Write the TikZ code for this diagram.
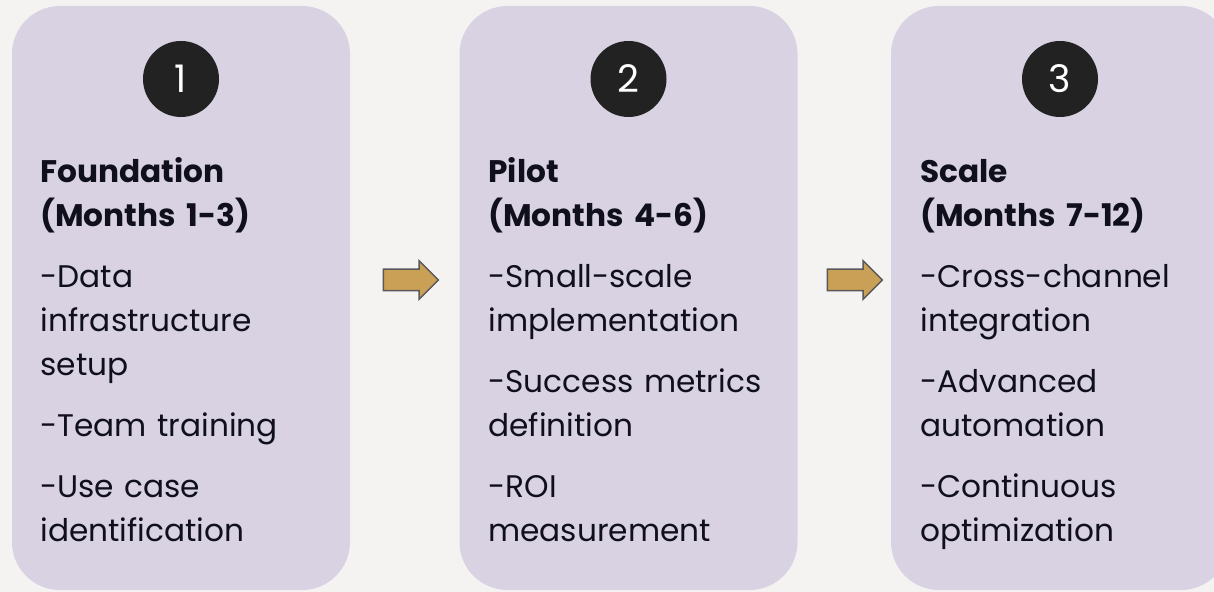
\documentclass[tikz,border=0pt]{standalone}
\usepackage{fontspec}
\setmainfont{Poppins}
\usetikzlibrary{positioning, shapes.arrows}
\definecolor{pagebg}{RGB}{244,243,242}
\definecolor{lilac}{RGB}{217,210,227}
\definecolor{ochre}{RGB}{202,160,86}
\definecolor{ink}{RGB}{16,16,28}
\definecolor{badgegray}{RGB}{34,34,34}

\begin{document}
\begin{tikzpicture}[x=0.5pt, y=-0.5pt,
  panel/.style={fill=lilac, rounded corners=24pt, minimum width=169pt, minimum height=292pt, inner sep=0pt},
  badge/.style={circle, fill=badgegray, text=white, minimum size=38pt, inner sep=0pt, font=\fontsize{19}{19}\selectfont},
  phase/.style={anchor=base west, text=ink, align=left, text width=145pt, inner sep=0pt, font=\fontsize{15.6}{22}\selectfont},
  flow/.style={single arrow, draw=black!65, line width=0.75pt, fill=ochre, minimum height=27.5pt,
    text height=10pt, text depth=0pt, single arrow head extend=4.25pt, inner sep=0pt}]
  \useasboundingbox (0,0) rectangle (1214,592);
  \fill[pagebg] (0,0) rectangle (1214,592);
  % the three phase cards
  \node[panel] (p1) at (181,298) {};
  \node[panel] (p2) at (628.5,298) {};
  \node[panel] (p3) at (1060,298) {};
  \node[badge, below=17.5pt of p1.north] (n1) {1};
  \node[badge, below=17.5pt of p2.north] (n2) {2};
  \node[badge, below=17.5pt of p3.north] (n3) {3};
  \node[phase] (t1) at (40,183) {\textbf{Foundation}\\ \textbf{(Months 1-3)}\\[8.5pt]
    -Data\\ infrastructure\\ setup\\[8.5pt] -Team training\\[8.5pt] -Use case\\ identification};
  \node[phase] (t2) at (488,183) {\textbf{Pilot}\\ \textbf{(Months 4-6)}\\[8.5pt]
    -Small-scale\\ implementation\\[8.5pt] -Success metrics\\ definition\\[8.5pt] -ROI\\ measurement};
  \node[phase] (t3) at (920,183) {\textbf{Scale}\\ \textbf{(Months 7-12)}\\[8.5pt]
    -Cross-channel\\ integration\\[8.5pt] -Advanced\\ automation\\[8.5pt] -Continuous\\ optimization};
  % arrows between cards
  \node[flow] (a1) at (405.5,280) {};
  \node[flow] (a2) at (849.5,280) {};
\end{tikzpicture}
\end{document}
